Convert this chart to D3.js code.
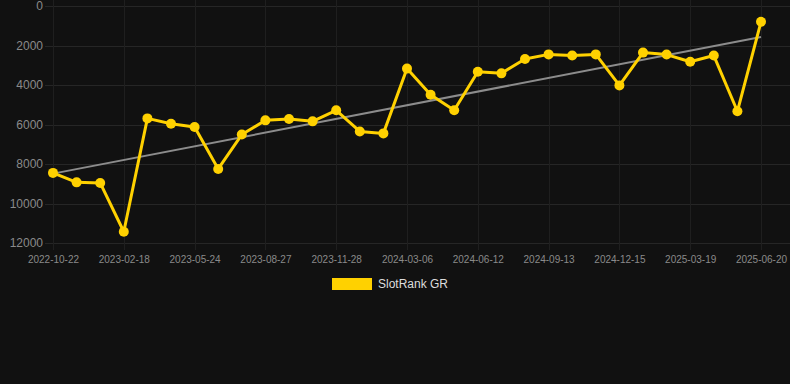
<!DOCTYPE html>
<html>
<head>
<meta charset="utf-8">
<script src="https://cdn.jsdelivr.net/npm/d3@7"></script>
<style>
  html, body { margin: 0; padding: 0; background: #111111; }
  svg { display: block; }
</style>
</head>
<body>
<svg id="chart" width="790" height="384"></svg>
<script>
const dates = [
  '2022-10-22', '2022-12-01', '2023-01-10', '2023-02-18', '2023-03-21', '2023-04-22',
  '2023-05-24', '2023-06-25', '2023-07-26', '2023-08-27', '2023-09-27', '2023-10-28',
  '2023-11-28', '2024-01-01', '2024-02-02', '2024-03-06', '2024-04-08', '2024-05-10',
  '2024-06-12', '2024-07-12', '2024-08-12', '2024-09-13', '2024-10-14', '2024-11-14',
  '2024-12-15', '2025-01-15', '2025-02-16', '2025-03-19', '2025-04-19', '2025-05-20',
  '2025-06-20'
]
const ranks = [
  8450, 8930, 8960, 11430, 5690, 5960, 6130, 8250, 6510, 5790, 5720, 5840,
  5280, 6350, 6450, 3170, 4490, 5280, 3330, 3410, 2680, 2450, 2510, 2450,
  4020, 2360, 2460, 2820, 2510, 5330, 800
]
const yTicks = [0, 2000, 4000, 6000, 8000, 10000, 12000]
const xTickDates = dates.filter((d, i) => i % 3 === 0)
const seriesName = 'SlotRank GR'

const svg = d3.select('#chart')
const gold = '#ffd100'

const xScale = d3.scalePoint().domain(dates).range([53, 761])
const yScale = d3.scaleLinear().domain([0, 12000]).range([6, 243])

// grid
const grid = svg.append('g').attr('class', 'grid')
grid
  .selectAll('.hline')
  .data(yTicks)
  .enter()
  .append('line')
  .attr('x1', 45)
  .attr('x2', 790)
  .attr('y1', (d) => Math.round(yScale(d)) + 0.5)
  .attr('y2', (d) => Math.round(yScale(d)) + 0.5)
  .attr('stroke', '#262626')
grid
  .selectAll('.vline')
  .data(xTickDates)
  .enter()
  .append('line')
  .attr('x1', (d) => Math.round(xScale(d)) + 0.5)
  .attr('x2', (d) => Math.round(xScale(d)) + 0.5)
  .attr('y1', 0)
  .attr('y2', 250)
  .attr('stroke', '#1f1f1f')

// y axis
const yAxis = svg
  .append('g')
  .attr('transform', 'translate(45,0)')
  .call(d3.axisLeft(yScale).tickValues(yTicks).tickSize(0).tickPadding(2).tickFormat((d) => d))
yAxis.select('.domain').remove()
yAxis.selectAll('text').attr('fill', '#8a8a8a').attr('font-family', 'Arial, "Liberation Sans", sans-serif').attr('font-size', '12px')

// x axis
const xAxis = svg
  .append('g')
  .attr('transform', 'translate(0,243)')
  .call(d3.axisBottom(xScale).tickValues(xTickDates).tickSize(0).tickPadding(13))
xAxis.select('.domain').remove()
xAxis.selectAll('text').attr('fill', '#8a8a8a').attr('font-family', 'Arial, "Liberation Sans", sans-serif').attr('font-size', '10px')

// trend line (least squares)
const n = ranks.length
const meanX = d3.mean(ranks, (d, i) => i)
const meanY = d3.mean(ranks)
const slope = d3.sum(ranks, (d, i) => (i - meanX) * (d - meanY)) / d3.sum(ranks, (d, i) => (i - meanX) * (i - meanX))
const intercept = meanY - slope * meanX
svg
  .append('line')
  .attr('x1', xScale(dates[0]))
  .attr('y1', yScale(intercept))
  .attr('x2', xScale(dates[n - 1]))
  .attr('y2', yScale(intercept + slope * (n - 1)))
  .attr('stroke', '#8c8c8c')
  .attr('stroke-width', 2)

// series line
const line = d3
  .line()
  .x((d, i) => xScale(dates[i]))
  .y((d) => yScale(d))
svg.append('path').datum(ranks).attr('d', line).attr('fill', 'none').attr('stroke', gold).attr('stroke-width', 3).attr('stroke-linejoin', 'round')

svg
  .append('g')
  .selectAll('circle')
  .data(ranks)
  .enter()
  .append('circle')
  .attr('cx', (d, i) => xScale(dates[i]))
  .attr('cy', (d) => yScale(d))
  .attr('r', 5)
  .attr('fill', gold)

// legend
const legend = svg.append('g').attr('transform', 'translate(332,278)')
legend.append('rect').attr('width', 40).attr('height', 12).attr('fill', gold)
legend
  .append('text')
  .attr('x', 46)
  .attr('y', 6)
  .attr('dy', '0.35em')
  .attr('fill', '#dddddd')
  .attr('font-family', 'Arial, "Liberation Sans", sans-serif')
  .attr('font-size', '12px')
  .text(seriesName)
</script>
</body>
</html>
